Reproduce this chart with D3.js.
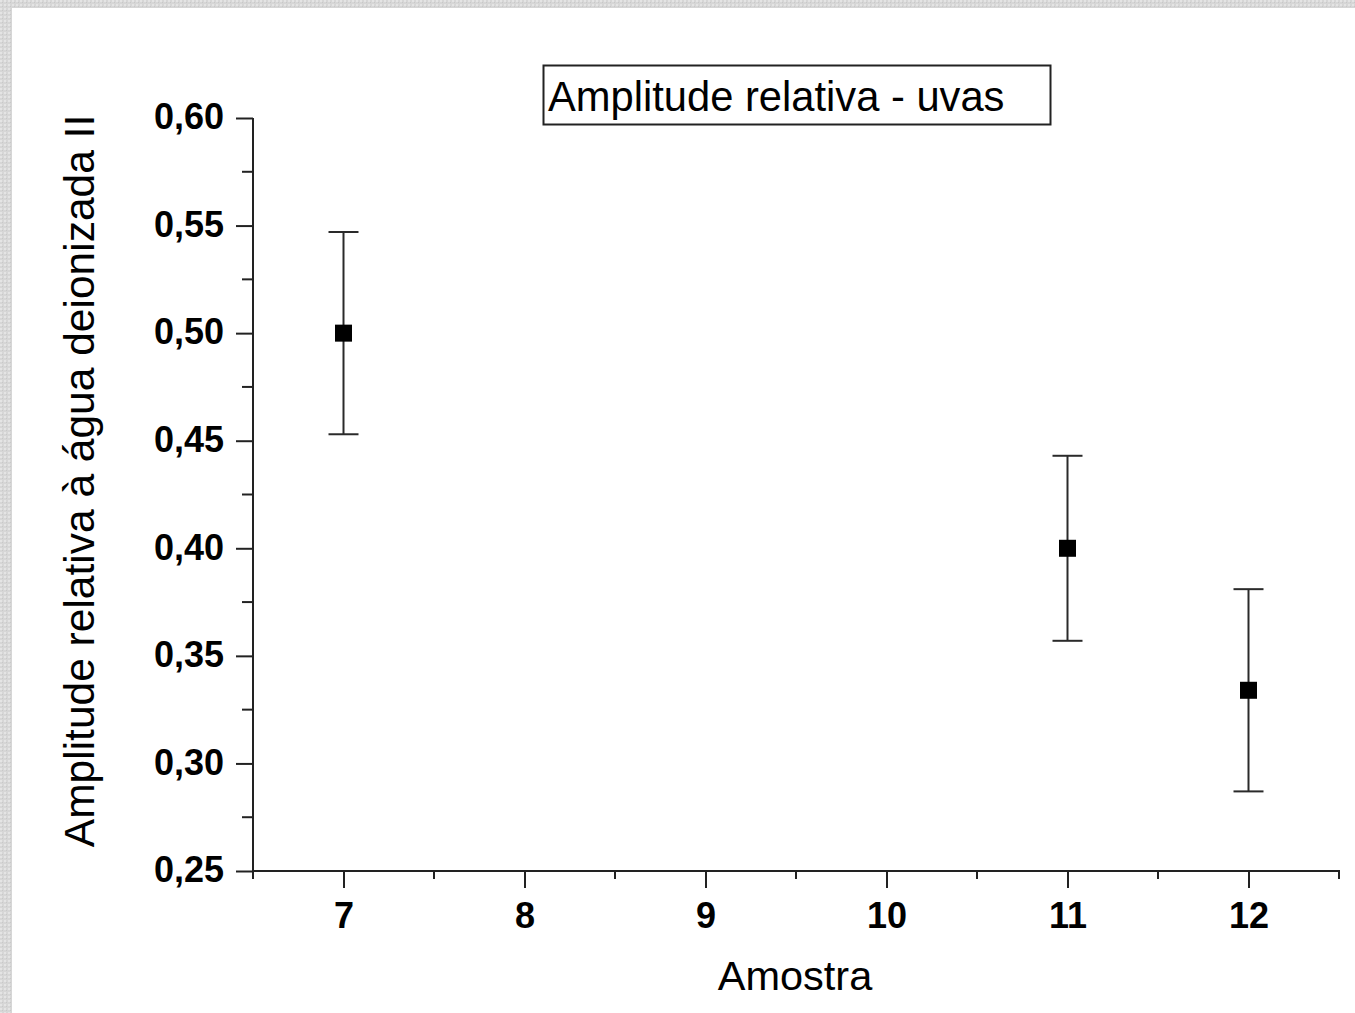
<!DOCTYPE html>
<html><head><meta charset="utf-8">
<script src="https://cdn.jsdelivr.net/npm/d3@7"></script>
<style>body{margin:0;padding:0;overflow:hidden;background:#fff}</style>
</head><body>
<script>
const samples = [7, 11, 12];
const means = [0.500, 0.400, 0.334];
const errors = [0.047, 0.043, 0.047];
const xTicks = [7, 8, 9, 10, 11, 12];
const yTicks = [0.25, 0.30, 0.35, 0.40, 0.45, 0.50, 0.55, 0.60];
const titleText = "Amplitude relativa - uvas";
const xLabel = "Amostra";
const yLabel = "Amplitude relativa à água deionizada II";

const W = 1355, H = 1013;
const svg = d3.select("body").append("svg").attr("width", W).attr("height", H);

// textured gray frame
const defs = svg.append("defs");
const pat = defs.append("pattern").attr("id","tex").attr("width",4).attr("height",4).attr("patternUnits","userSpaceOnUse");
pat.append("rect").attr("width",4).attr("height",4).attr("fill","#d6d6d6");
pat.append("rect").attr("x",0).attr("y",0).attr("width",2).attr("height",2).attr("fill","#e4e4e4");
pat.append("rect").attr("x",2).attr("y",2).attr("width",1).attr("height",1).attr("fill","#c8c8c8");
svg.append("rect").attr("width",W).attr("height",H).attr("fill","url(#tex)");
svg.append("rect").attr("x",12).attr("y",8).attr("width",W-12).attr("height",H-8).attr("fill","#fff");

const x = d3.scaleLinear().domain([6.5, 12.5]).range([253, 1339]);
const y = d3.scaleLinear().domain([0.25, 0.60]).range([871, 118]);

const fmt = d => d.toFixed(2).replace(".", ",");
const axisColor = "#222";

// Y axis
const yAxis = d3.axisLeft(y).tickValues(yTicks).tickSize(17).tickPadding(12).tickFormat(fmt);
const gy = svg.append("g").attr("transform", `translate(${x(6.5)},0)`).call(yAxis);
const yMinor = yTicks.slice(0,-1).map(v => v + 0.025);
gy.selectAll(".minor").data(yMinor).enter().append("line").attr("class","minor")
  .attr("x1",0).attr("x2",-11).attr("y1",d=>y(d)).attr("y2",d=>y(d));

// X axis
const xAxis = d3.axisBottom(x).tickValues(xTicks).tickSize(17).tickPadding(14).tickFormat(d3.format("d"));
const gx = svg.append("g").attr("transform", `translate(0,${y(0.25)})`).call(xAxis);
const xMinor = [6.5, 7.5, 8.5, 9.5, 10.5, 11.5, 12.5];
gx.selectAll(".minor").data(xMinor).enter().append("line").attr("class","minor")
  .attr("y1",0).attr("y2",8).attr("x1",d=>x(d)).attr("x2",d=>x(d));

[gx, gy].forEach(g => {
  g.select(".domain").attr("stroke", axisColor).attr("stroke-width", 2);
  g.selectAll("line").attr("stroke", axisColor).attr("stroke-width", 2);
  g.selectAll("text").attr("fill","#000").attr("font-family","'Liberation Sans', Arial, sans-serif")
    .attr("font-size", 36).attr("font-weight","bold");
});
gx.select(".domain").attr("d", `M${x(6.5)},0H${x(12.5)}V8`);
gy.select(".domain").attr("d", `M0,${y(0.60)}V${y(0.25)}`);
gy.selectAll(".tick text").attr("dy","0.3em");
gx.selectAll(".tick text").attr("dy","0.71em");

// error bars
const data = samples.map((s,i)=>({s, m: means[i], e: errors[i]}));
const eb = svg.append("g").attr("stroke","#2a2a2a").attr("stroke-width",2);
data.forEach(d => {
  const cx = x(d.s);
  eb.append("line").attr("x1",cx).attr("x2",cx).attr("y1",y(d.m+d.e)).attr("y2",y(d.m-d.e));
  eb.append("line").attr("x1",cx-15).attr("x2",cx+15).attr("y1",y(d.m+d.e)).attr("y2",y(d.m+d.e));
  eb.append("line").attr("x1",cx-15).attr("x2",cx+15).attr("y1",y(d.m-d.e)).attr("y2",y(d.m-d.e));
});
svg.append("g").selectAll("rect").data(data).enter().append("rect")
  .attr("x", d => x(d.s) - 8.5).attr("y", d => y(d.m) - 8.5)
  .attr("width", 17).attr("height", 17).attr("fill", "#000");

// title box
svg.append("rect").attr("x",543.5).attr("y",65.5).attr("width",507).attr("height",59)
  .attr("fill","#fff").attr("stroke","#222").attr("stroke-width",2);
svg.append("text").attr("x",548).attr("y",111).text(titleText)
  .attr("font-family","'Liberation Sans', Arial, sans-serif").attr("font-size",41.7).attr("fill","#000");

// axis titles
svg.append("text").attr("x",795).attr("y",990).attr("text-anchor","middle").text(xLabel)
  .attr("font-family","'Liberation Sans', Arial, sans-serif").attr("font-size",41.5).attr("fill","#000");
svg.append("text").attr("transform","translate(94,481) rotate(-90)").attr("text-anchor","middle").text(yLabel)
  .attr("font-family","'Liberation Sans', Arial, sans-serif").attr("font-size",42.5).attr("fill","#000");
</script>
</body></html>
